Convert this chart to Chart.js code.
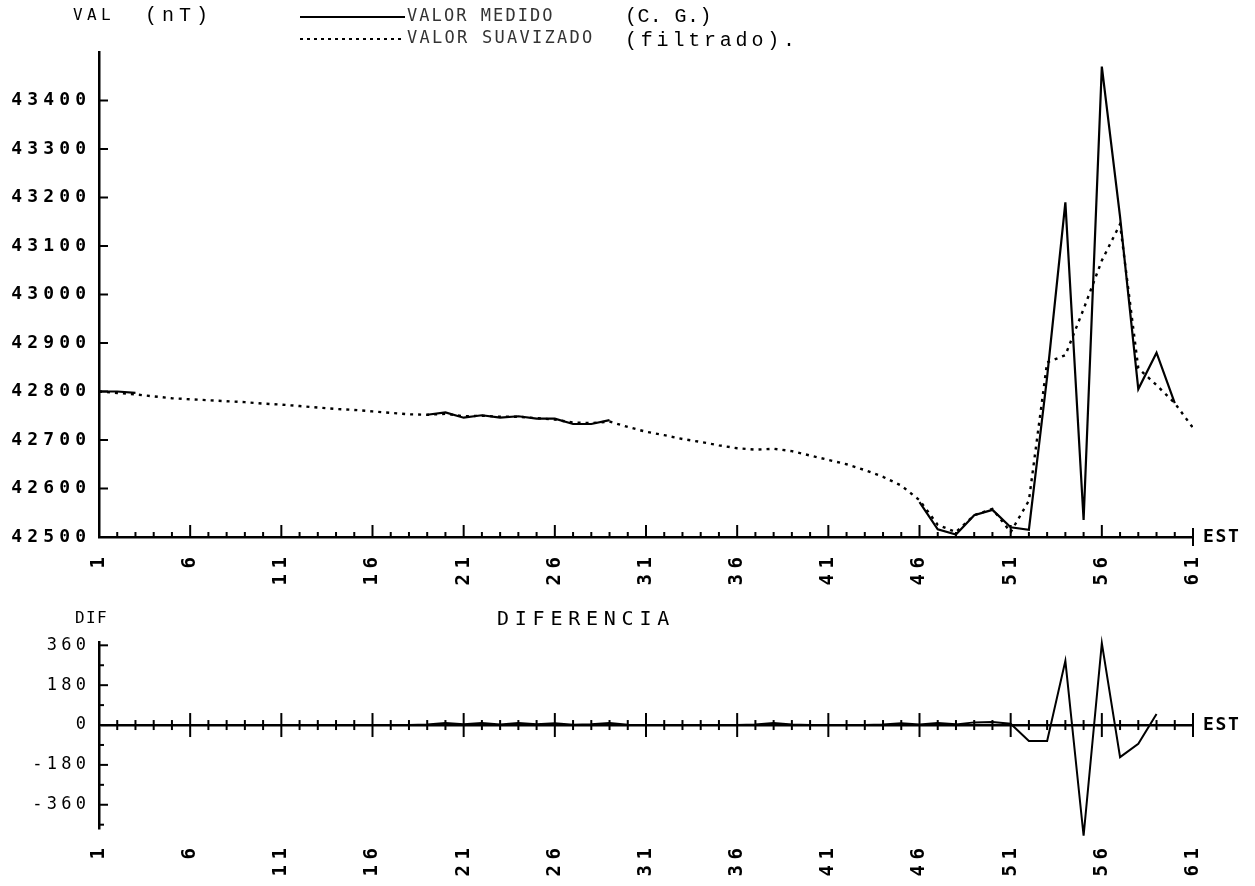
<!DOCTYPE html>
<html>
<head>
<meta charset="utf-8">
<script src="https://cdn.jsdelivr.net/npm/chart.js@4.4.1/dist/chart.umd.min.js"></script>
<style>
  html, body { margin: 0; padding: 0; background: #fff; }
  #wrap { position: relative; width: 1255px; height: 886px; }
  canvas { position: absolute; left: 0; }
  #cVal { top: 0; }
  #cDif { top: 600px; }
</style>
</head>
<body>
<div id="wrap">
  <canvas id="cVal" width="1255" height="600"></canvas>
  <canvas id="cDif" width="1255" height="286"></canvas>
</div>
<script>
// estaciones del perfil
const estaciones = [1, 2, 3, 4, 5, 6, 7, 8, 9, 10, 11, 12, 13, 14, 15, 16, 17, 18, 19, 20,
  21, 22, 23, 24, 25, 26, 27, 28, 29, 30, 31, 32, 33, 34, 35, 36, 37, 38, 39, 40,
  41, 42, 43, 44, 45, 46, 47, 48, 49, 50, 51, 52, 53, 54, 55, 56, 57, 58, 59, 60, 61];

// valor medido (C. G.), nT  -- null donde no se traza
const valorMedido = [42800, 42800, 42797, null, null, null, null, null, null, null,
  null, null, null, null, null, null, null, null, 42752, 42757,
  42746, 42751, 42746, 42749, 42744, 42744, 42733, 42733, 42741, null,
  null, null, null, null, null, null, null, null, null, null,
  null, null, null, null, null, 42572, 42516, 42505, 42545, 42556,
  42520, 42515, 42830, 43190, 42535, 43470, 43160, 42805, 42880, 42776];

// valor suavizado (filtrado), nT
const valorSuavizado = [42800, 42797, 42794, 42790, 42786, 42784, 42782, 42780, 42778, 42775,
  42773, 42770, 42767, 42764, 42762, 42759, 42756, 42753, 42752, 42754,
  42749, 42750, 42748, 42748, 42745, 42742, 42736, 42735, 42738, 42727,
  42717, 42710, 42702, 42696, 42689, 42683, 42680, 42682, 42677, 42668,
  42659, 42650, 42638, 42624, 42606, 42576, 42525, 42510, 42545, 42558,
  42510, 42575, 42860, 42875, 42970, 43070, 43145, 42848, 42813, 42776, 42725];

// diferencia medido - suavizado, nT
const diferencia = [0, 0, 0, 0, 0, 0, 0, 0, 0, 0,
  0, 0, 0, 0, 0, 0, 0, 0, 2, 9,
  3, 9, 2, 9, 3, 8, 1, 3, 9, 1,
  0, 0, 0, 0, 0, 0, 2, 9, 2, 0,
  0, 0, 0, 2, 8, 2, 9, 3, 12, 14,
  6, -72, -72, 290, -500, 370, -145, -85, 50];

const estTicks = [1, 6, 11, 16, 21, 26, 31, 36, 41, 46, 51, 56, 61];
const valTicks = [42500, 42600, 42700, 42800, 42900, 43000, 43100, 43200, 43300, 43400];
const difTicks = [-450, -360, -270, -180, -90, 0, 90, 180, 270, 360];
const difLabels = [-360, -180, 0, 180, 360];

const MONO = '"DejaVu Sans Mono", monospace';
const TYPE = '"Liberation Mono", "Courier New", monospace';

function puntos(vals) {
  return estaciones.map((e, i) => ({ x: e, y: i < vals.length ? vals[i] : null }));
}

// texto con paso fijo entre caracteres (letra de plotter)
function texto(ctx, str, x, y, font, paso, align) {
  ctx.save();
  ctx.font = font;
  const adv = ctx.measureText('0').width;
  const extra = paso - adv;
  if ('letterSpacing' in ctx) ctx.letterSpacing = extra + 'px';
  const ancho = str.length * adv + (str.length - 1) * extra;
  const x0 = align === 'right' ? x - ancho : (align === 'center' ? x - ancho / 2 : x);
  ctx.textAlign = 'left';
  ctx.textBaseline = 'middle';
  ctx.fillText(str, x0, y);
  ctx.restore();
}

function linea(ctx, x1, y1, x2, y2) {
  ctx.beginPath();
  ctx.moveTo(x1, y1);
  ctx.lineTo(x2, y2);
  ctx.stroke();
}

function etiquetasEst(ctx, xs, arriba) {
  estTicks.forEach(e => {
    const px = xs.getPixelForValue(e);
    ctx.save();
    ctx.translate(px, arriba);
    ctx.rotate(-Math.PI / 2);
    texto(ctx, String(e), 0, 0, 'bold 19px ' + MONO, 17, 'right');
    ctx.restore();
  });
}

const marcasVal = {
  id: 'marcasVal',
  afterDraw(chart) {
    const { ctx, chartArea: a, scales: { x, y } } = chart;
    ctx.save();
    ctx.strokeStyle = '#000';
    ctx.fillStyle = '#000';
    ctx.lineWidth = 2;

    valTicks.forEach(v => {
      const py = y.getPixelForValue(v);
      linea(ctx, a.left, py, a.left + 9, py);
      texto(ctx, String(v), 86, py, 'bold 18px ' + MONO, 16, 'right');
    });

    estaciones.forEach(e => {
      const px = x.getPixelForValue(e);
      if (e === 61) {
        linea(ctx, px, a.bottom - 9, px, a.bottom + 9);
      } else {
        const largo = estTicks.includes(e) ? 12 : 5;
        linea(ctx, px, a.bottom, px, a.bottom - largo);
      }
    });
    etiquetasEst(ctx, x, a.bottom + 20);
    texto(ctx, 'EST', x.getPixelForValue(61) + 10, a.bottom, 'bold 18px ' + MONO, 12.5, 'left');

    // cabecera
    texto(ctx, 'VAL', 73, 16, '16px ' + MONO, 14, 'left');
    texto(ctx, '(nT)', 145, 16, '20px ' + TYPE, 17, 'left');

    ctx.lineWidth = 2;
    linea(ctx, 300, 17, 405, 17);
    ctx.setLineDash([3, 4]);
    linea(ctx, 300, 39, 405, 39);
    ctx.setLineDash([]);
    ctx.fillStyle = '#333';
    texto(ctx, 'VALOR MEDIDO', 407, 17, '17px ' + MONO, 12.3, 'left');
    texto(ctx, 'VALOR SUAVIZADO', 407, 39, '17px ' + MONO, 12.5, 'left');
    ctx.fillStyle = '#000';
    texto(ctx, '(C. G.)', 625, 17, '20px ' + TYPE, 12.4, 'left');
    texto(ctx, '(filtrado).', 625, 41, '20px ' + TYPE, 15.8, 'left');
    ctx.restore();
  }
};

const marcasDif = {
  id: 'marcasDif',
  afterDraw(chart) {
    const { ctx, chartArea: a, scales: { x, y } } = chart;
    ctx.save();
    ctx.strokeStyle = '#000';
    ctx.fillStyle = '#000';
    ctx.lineWidth = 2;

    difTicks.forEach(v => {
      const py = y.getPixelForValue(v);
      const largo = difLabels.includes(v) ? 9 : 5;
      linea(ctx, a.left, py, a.left + largo, py);
    });
    difLabels.forEach(v => {
      texto(ctx, String(v), 86, y.getPixelForValue(v), '17px ' + MONO, 14.5, 'right');
    });

    const y0 = y.getPixelForValue(0);
    estaciones.forEach(e => {
      const px = x.getPixelForValue(e);
      const largo = estTicks.includes(e) ? 12 : 5;
      linea(ctx, px, y0 - largo, px, y0 + largo);
    });
    etiquetasEst(ctx, x, a.bottom + 20);
    texto(ctx, 'EST', x.getPixelForValue(61) + 10, y0, 'bold 18px ' + MONO, 12.5, 'left');

    texto(ctx, 'DIF', 75, 19, '16px ' + MONO, 11, 'left');
    texto(ctx, 'DIFERENCIA', 497, 20, '20px ' + MONO, 17.8, 'left');
    ctx.restore();
  }
};

const base = {
  responsive: false,
  animation: false,
  devicePixelRatio: 1,
  events: [],
  plugins: { legend: { display: false }, tooltip: { enabled: false } }
};

new Chart(document.getElementById('cVal'), {
  type: 'line',
  data: {
    datasets: [{
      label: 'VALOR MEDIDO',
      data: puntos(valorMedido),
      borderColor: '#000',
      borderWidth: 2.2,
      pointRadius: 0,
      tension: 0,
      spanGaps: false
    }, {
      label: 'VALOR SUAVIZADO',
      data: puntos(valorSuavizado),
      borderColor: '#000',
      borderWidth: 2.4,
      borderDash: [3, 5],
      pointRadius: 0,
      tension: 0
    }]
  },
  options: {
    ...base,
    layout: { padding: { top: 52, right: 62, left: 0, bottom: 0 } },
    scales: {
      x: {
        type: 'linear', min: 1, max: 61,
        ticks: { display: false },
        grid: { display: false },
        border: { display: true, color: '#000', width: 2.5 },
        afterFit: s => { s.height = 63; }
      },
      y: {
        type: 'linear', min: 42500, max: 43500,
        ticks: { display: false, stepSize: 100 },
        grid: { display: false },
        border: { display: true, color: '#000', width: 2.5 },
        afterFit: s => { s.width = 99; }
      }
    }
  },
  plugins: [marcasVal]
});

new Chart(document.getElementById('cDif'), {
  type: 'line',
  data: {
    datasets: [{
      label: 'DIFERENCIA',
      data: puntos(diferencia),
      borderColor: '#000',
      borderWidth: 2,
      pointRadius: 0,
      tension: 0,
      clip: false
    }]
  },
  options: {
    ...base,
    layout: { padding: { top: 42, right: 62, left: 0, bottom: 0 } },
    scales: {
      x: {
        type: 'linear', min: 1, max: 61,
        ticks: { display: false },
        grid: { display: false },
        border: { display: false },
        afterFit: s => { s.height = 58; }
      },
      y: {
        type: 'linear', min: -465, max: 375,
        afterBuildTicks: s => { s.ticks = difTicks.map(v => ({ value: v })); },
        ticks: { display: false },
        grid: {
          drawTicks: false,
          lineWidth: 2.5,
          color: c => (c.tick && c.tick.value === 0 ? '#000' : 'rgba(0,0,0,0)')
        },
        border: { display: true, color: '#000', width: 2.5 },
        afterFit: s => { s.width = 99; }
      }
    }
  },
  plugins: [marcasDif]
});
</script>
</body>
</html>
